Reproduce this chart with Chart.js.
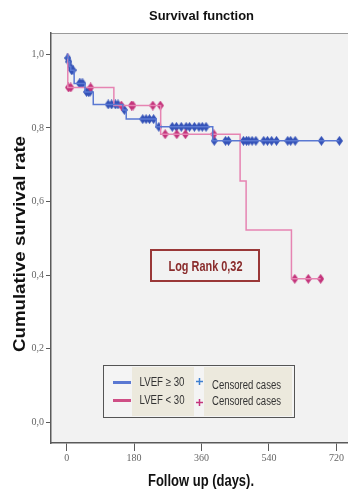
<!DOCTYPE html>
<html>
<head>
<meta charset="utf-8">
<script src="https://cdn.jsdelivr.net/npm/chart.js@4"></script>
<style>
  html, body { margin: 0; padding: 0; background: #fff; overflow: hidden; }
  #wrap { width: 356px; height: 495px; }
</style>
</head>
<body>
<div id="wrap"><canvas id="km" width="356" height="495"></canvas></div>
<script>
/* ---- data ---- */
const xTicks = [0, 180, 360, 540, 720];
const yTicks = [0, 0.2, 0.4, 0.6, 0.8, 1.0];

// LVEF >= 30 : event days and survival after each step
const hiDays = [0, 2, 5, 8, 11, 20, 49, 71, 150, 159, 239, 390];
const hiSurv = [1.0, 0.99, 0.98, 0.967, 0.957, 0.921, 0.898, 0.864, 0.849, 0.824, 0.803, 0.765];
const hiCensored = [3, 6, 9, 13, 17, 34, 38, 43, 53, 58, 62, 111, 120, 130, 137, 154,
    203, 212, 221, 232, 246, 282, 293, 306, 319, 328, 341, 353, 362, 372,
    394, 424, 432, 472, 480, 486, 495, 505, 526, 536, 547, 560, 590, 598, 610, 680, 728];

// LVEF < 30
const loDays = [0, 3, 126, 251, 463, 479, 600];
const loSurv = [1.0, 0.91, 0.861, 0.783, 0.656, 0.523, 0.390];
const loCensored = [5, 11, 64, 146, 173, 177, 230, 250, 263, 294, 317, 393, 609, 645, 678];

const colors = {
    blueLine: '#5a78d2',
    blueMark: '#3553b8',
    pinkLine: '#e684b2',
    pinkMark: '#c4357c',
    axis: '#5a5a5a',
    tick: '#666',
    plotBg: '#f2f2f2',
    boxRed: '#9a3838',
    beige: '#ece9dd',
};

const sans = "'Liberation Sans', Arial, sans-serif";

/* survival level at day t (step function) */
function survAt(days, surv, t) {
    let s = surv[0];
    for (let i = 0; i < days.length; i++) {
        if (days[i] <= t) s = surv[i];
    }
    return s;
}

function curve(days, surv, censored) {
    const pts = days.map((d, i) => ({ x: d, y: surv[i] }));
    const last = Math.max(...censored);
    pts.push({ x: last, y: survAt(days, surv, last) });
    return pts;
}

function marks(days, surv, censored) {
    return censored.map(t => ({ x: t, y: survAt(days, surv, t) }));
}

/* censor tick: a small tall diamond, like the blurred SPSS "+" */
function censorMark(color) {
    const c = document.createElement('canvas');
    c.width = 7; c.height = 10;
    const g = c.getContext('2d');
    g.fillStyle = color;
    g.beginPath();
    g.moveTo(3.5, 0); g.lineTo(7, 5); g.lineTo(3.5, 10); g.lineTo(0, 5);
    g.closePath();
    g.fill();
    return c;
}

/* draw text squeezed/stretched to a given width (the original font is condensed) */
function fitText(ctx, text, x, y, width, font) {
    ctx.save();
    ctx.font = font;
    const k = width / ctx.measureText(text).width;
    ctx.translate(x, y);
    ctx.scale(k, 1);
    ctx.fillText(text, 0, 0);
    ctx.restore();
}

/* background, title, axis titles, log-rank box and legend */
const decor = {
    id: 'decor',
    beforeDraw(chart) {
        const { ctx, chartArea: a } = chart;
        ctx.save();
        ctx.fillStyle = colors.plotBg;
        ctx.fillRect(a.left, a.top, a.right - a.left, a.bottom - a.top);
        ctx.strokeStyle = '#9a9a9a';
        ctx.lineWidth = 1;
        ctx.beginPath();
        ctx.moveTo(a.left, a.top + 0.5);
        ctx.lineTo(a.right, a.top + 0.5);
        ctx.stroke();
        ctx.restore();
    },
    afterDraw(chart) {
        const { ctx } = chart;
        ctx.save();
        ctx.textAlign = 'center';
        ctx.textBaseline = 'alphabetic';

        // title
        ctx.fillStyle = '#111';
        fitText(ctx, 'Survival function', 201.5, 20, 105, "bold 13px " + sans);

        // x title
        fitText(ctx, 'Follow up (days).', 201, 486, 106, "bold 16px " + sans);

        // y title
        ctx.save();
        ctx.translate(25, 244);
        ctx.rotate(-Math.PI / 2);
        fitText(ctx, 'Cumulative survival rate', 0, 0, 216, "bold 16px " + sans);
        ctx.restore();

        // log rank box
        ctx.strokeStyle = colors.boxRed;
        ctx.lineWidth = 2;
        ctx.strokeRect(151, 250, 108, 31);
        ctx.fillStyle = '#8a2c2c';
        fitText(ctx, 'Log Rank 0,32', 205.5, 271, 74, "bold 14px " + sans);

        // legend
        ctx.fillStyle = '#f4f4f4';
        ctx.fillRect(104, 366, 193, 51);
        ctx.fillStyle = colors.beige;
        ctx.fillRect(132, 367, 62, 49);
        ctx.fillRect(204, 367, 88, 49);
        ctx.strokeStyle = '#555';
        ctx.lineWidth = 1;
        ctx.strokeRect(103.5, 365.5, 191, 52);

        ctx.lineWidth = 3;
        ctx.strokeStyle = colors.blueLine;
        ctx.beginPath(); ctx.moveTo(113, 382.5); ctx.lineTo(131, 382.5); ctx.stroke();
        ctx.strokeStyle = '#cf4f86';
        ctx.beginPath(); ctx.moveTo(113, 400.5); ctx.lineTo(131, 400.5); ctx.stroke();

        ctx.lineWidth = 1.5;
        ctx.strokeStyle = '#3f7fd0';
        ctx.beginPath(); ctx.moveTo(196, 381.5); ctx.lineTo(203, 381.5); ctx.moveTo(199.5, 378); ctx.lineTo(199.5, 385); ctx.stroke();
        ctx.strokeStyle = colors.pinkMark;
        ctx.beginPath(); ctx.moveTo(196, 402.5); ctx.lineTo(203, 402.5); ctx.moveTo(199.5, 399); ctx.lineTo(199.5, 406); ctx.stroke();

        ctx.fillStyle = '#333';
        ctx.textAlign = 'left';
        fitText(ctx, 'LVEF \u2265 30', 139.5, 386, 45, "12px " + sans);
        fitText(ctx, 'LVEF < 30', 139.5, 404, 45, "12px " + sans);
        fitText(ctx, 'Censored cases', 212, 389, 69, "12px " + sans);
        fitText(ctx, 'Censored cases', 212, 405, 69, "12px " + sans);
        ctx.restore();
    },
};

new Chart(document.getElementById('km'), {
    type: 'scatter',
    data: {
        datasets: [
            {
                data: curve(hiDays, hiSurv, hiCensored),
                showLine: true,
                stepped: 'before',
                borderColor: colors.blueLine,
                borderWidth: 1.5,
                pointRadius: 0,
            },
            {
                data: curve(loDays, loSurv, loCensored),
                showLine: true,
                stepped: 'before',
                borderColor: colors.pinkLine,
                borderWidth: 1.5,
                pointRadius: 0,
            },
            {
                data: marks(loDays, loSurv, loCensored),
                pointStyle: censorMark(colors.pinkMark),
                showLine: false,
            },
            {
                data: marks(hiDays, hiSurv, hiCensored),
                pointStyle: censorMark(colors.blueMark),
                showLine: false,
            },
        ],
    },
    options: {
        responsive: false,
        animation: false,
        events: [],
        layout: { padding: { top: 33, right: 4, left: 0, bottom: 0 } },
        plugins: { legend: { display: false }, tooltip: { enabled: false } },
        scales: {
            x: {
                type: 'linear',
                min: -41.8,
                max: 759,
                afterBuildTicks: s => { s.ticks = xTicks.map(v => ({ value: v })); },
                afterFit: s => { s.height = 52; },
                grid: { drawOnChartArea: false, drawTicks: true, tickLength: 8, color: colors.axis },
                border: { display: true, color: colors.axis, width: 1.5 },
                ticks: {
                    font: { family: "'Liberation Serif', serif", size: 10 },
                    color: colors.tick,
                    padding: 1,
                    maxRotation: 0,
                },
            },
            y: {
                type: 'linear',
                min: -0.056,
                max: 1.058,
                afterBuildTicks: s => { s.ticks = yTicks.map(v => ({ value: v })); },
                afterFit: s => { s.width = 51; },
                grid: { drawOnChartArea: false, drawTicks: true, tickLength: 5, color: colors.axis },
                border: { display: true, color: colors.axis, width: 1.5 },
                ticks: {
                    font: { family: "'Liberation Serif', serif", size: 10 },
                    color: colors.tick,
                    padding: 2,
                    callback: v => v.toFixed(1).replace('.', ','),
                },
            },
        },
    },
    plugins: [decor],
});
</script>
</body>
</html>
